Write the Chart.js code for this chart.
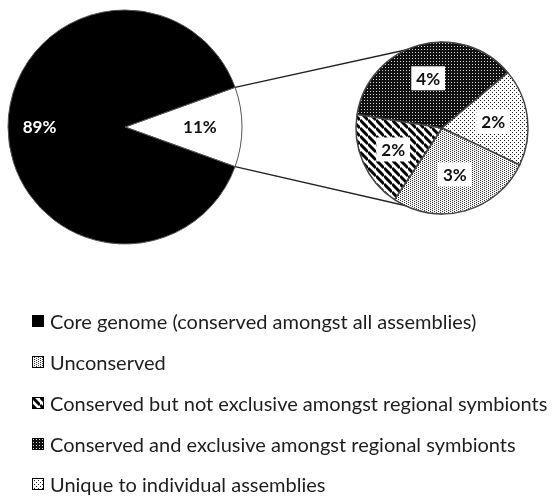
<!DOCTYPE html>
<html>
<head>
<meta charset="utf-8">
<script src="https://cdn.jsdelivr.net/npm/chart.js@4.4.0/dist/chart.umd.min.js"></script>
<style>
  html, body { margin: 0; padding: 0; background: #fff; }
  #wrap { position: relative; width: 554px; height: 498px; overflow: hidden; }
  #wrap canvas.pie { position: absolute; left: 0; top: 0; }
  #legend { position: absolute; left: 32px; top: 301px; margin: 0; padding: 0; list-style: none;
            font-family: Lato, "Liberation Sans", sans-serif; font-size: 20px; color: #1e1e1e; }
  #legend li { height: 40.75px; white-space: nowrap; display: flex; align-items: center; }
  #legend canvas { margin-right: 6px; flex: none; }
</style>
</head>
<body>
<div id="wrap">
  <canvas id="mainPie" class="pie" width="554" height="260"></canvas>
  <canvas id="splitPie" class="pie" width="554" height="260"></canvas>
  <ul id="legend"></ul>
</div>
<script>
// main pie: the 11% slice gets split out into the small pie
const mainLabels = ['Other', 'Core genome (conserved amongst all assemblies)'];
const mainValues = [11, 89];

// small pie, clockwise from the dark slice
const splitLabels = [
  'Conserved and exclusive amongst regional symbionts',
  'Unique to individual assemblies',
  'Unconserved',
  'Conserved but not exclusive amongst regional symbionts'
];
const splitValues = [4, 2, 3, 2];

// legend order as in the figure
const legendLabels = [
  'Core genome (conserved amongst all assemblies)',
  'Unconserved',
  'Conserved but not exclusive amongst regional symbionts',
  'Conserved and exclusive amongst regional symbionts',
  'Unique to individual assemblies'
];

function makePattern(size, draw) {
  const c = document.createElement('canvas');
  c.width = size; c.height = size;
  const g = c.getContext('2d');
  draw(g, size);
  return g.createPattern(c, 'repeat');
}

const fills = {
  'Core genome (conserved amongst all assemblies)': '#000000',
  'Other': '#ffffff',
  'Conserved and exclusive amongst regional symbionts': makePattern(3, (g, s) => {
    g.fillStyle = '#111'; g.fillRect(0, 0, s, s);
    g.fillStyle = '#d8d8d8'; g.fillRect(1, 1, 1, 1);
  }),
  'Unique to individual assemblies': makePattern(4, (g, s) => {
    g.fillStyle = '#fff'; g.fillRect(0, 0, s, s);
    g.fillStyle = '#222'; g.fillRect(0, 0, 1, 1); g.fillRect(2, 2, 1, 1);
  }),
  'Unconserved': makePattern(4, (g, s) => {
    g.fillStyle = '#f4f4f4'; g.fillRect(0, 0, s, s);
    g.fillStyle = '#333';
    g.fillRect(0, 0, 1, 1); g.fillRect(2, 1, 1, 1); g.fillRect(0, 2, 1, 1); g.fillRect(2, 3, 1, 1);
  }),
  'Conserved but not exclusive amongst regional symbionts': makePattern(8, (g, s) => {
    g.fillStyle = '#fff'; g.fillRect(0, 0, s, s);
    g.strokeStyle = '#000'; g.lineWidth = 3;
    for (let k = -1; k <= 1; k++) {
      g.beginPath(); g.moveTo(0, k * s); g.lineTo(s, s + k * s); g.stroke();
    }
  })
};

// percent labels inside the slices
const sliceLabels = {
  id: 'sliceLabels',
  afterDatasetsDraw(chart, args, opts) {
    const ctx = chart.ctx;
    const ds = chart.data.datasets[0];
    chart.getDatasetMeta(0).data.forEach((arc, i) => {
      const mid = (arc.startAngle + arc.endAngle) / 2;
      const r = arc.outerRadius * opts.dist[i];
      const x = arc.x + Math.cos(mid) * r;
      const y = arc.y + Math.sin(mid) * r;
      const text = ds.data[i] + '%';
      ctx.save();
      ctx.font = 'bold 17px Lato, "Liberation Sans", sans-serif';
      ctx.textAlign = 'center';
      ctx.textBaseline = 'middle';
      if (opts.box) {
        const w = ctx.measureText(text).width + 10;
        ctx.fillStyle = '#fff';
        ctx.fillRect(x - w / 2, y - 12, w, 24);
      }
      ctx.fillStyle = opts.colors[i];
      ctx.fillText(text, x, y + 1);
      ctx.restore();
    });
  }
};

const mainShare = mainValues[0] / mainValues.reduce((a, b) => a + b, 0);
const mainChart = new Chart(document.getElementById('mainPie'), {
  type: 'pie',
  data: {
    labels: mainLabels,
    datasets: [{
      data: mainValues,
      backgroundColor: mainLabels.map(l => fills[l]),
      borderColor: '#555',
      borderWidth: 1,
      radius: 117
    }]
  },
  options: {
    responsive: false,
    animation: false,
    rotation: 90 - mainShare * 180,
    layout: { padding: { left: 8, right: 312, top: 10, bottom: 16 } },
    plugins: {
      legend: { display: false },
      tooltip: { enabled: false },
      sliceLabels: { dist: [0.64, 0.73], colors: ['#111', '#fff'], box: false }
    }
  },
  plugins: [sliceLabels]
});

// lines from the split wedge to top and bottom of the small pie
const connectors = {
  id: 'connectors',
  beforeDatasetsDraw(chart) {
    const wedge = mainChart.getDatasetMeta(0).data[0];
    const small = chart.getDatasetMeta(0).data[0];
    const ctx = chart.ctx;
    const p1 = [wedge.x + Math.cos(wedge.startAngle) * wedge.outerRadius, wedge.y + Math.sin(wedge.startAngle) * wedge.outerRadius];
    const p2 = [wedge.x + Math.cos(wedge.endAngle) * wedge.outerRadius, wedge.y + Math.sin(wedge.endAngle) * wedge.outerRadius];
    ctx.save();
    ctx.strokeStyle = '#222';
    ctx.lineWidth = 1.5;
    ctx.beginPath();
    ctx.moveTo(p1[0], p1[1]); ctx.lineTo(small.x, small.y - small.outerRadius);
    ctx.moveTo(p2[0], p2[1]); ctx.lineTo(small.x, small.y + small.outerRadius);
    ctx.stroke();
    ctx.restore();
  }
};

new Chart(document.getElementById('splitPie'), {
  type: 'pie',
  data: {
    labels: splitLabels,
    datasets: [{
      data: splitValues,
      backgroundColor: splitLabels.map(l => fills[l]),
      borderColor: '#444',
      borderWidth: 1.5,
      radius: 86
    }]
  },
  options: {
    responsive: false,
    animation: false,
    rotation: -81,
    layout: { padding: { left: 356, right: 26, top: 42, bottom: 46 } },
    plugins: {
      legend: { display: false },
      tooltip: { enabled: false },
      sliceLabels: { dist: [0.6, 0.6, 0.56, 0.62], colors: ['#111', '#111', '#111', '#111'], box: true }
    }
  },
  plugins: [connectors, sliceLabels]
});

// html legend
const legendEl = document.getElementById('legend');
legendLabels.forEach(label => {
  const li = document.createElement('li');
  const box = document.createElement('canvas');
  box.width = 12; box.height = 12;
  const g = box.getContext('2d');
  g.fillStyle = fills[label];
  g.fillRect(0, 0, 12, 12);
  g.strokeStyle = '#000';
  g.lineWidth = 1;
  g.strokeRect(0.5, 0.5, 11, 11);
  li.appendChild(box);
  li.appendChild(document.createTextNode(label));
  legendEl.appendChild(li);
});
</script>
</body>
</html>
